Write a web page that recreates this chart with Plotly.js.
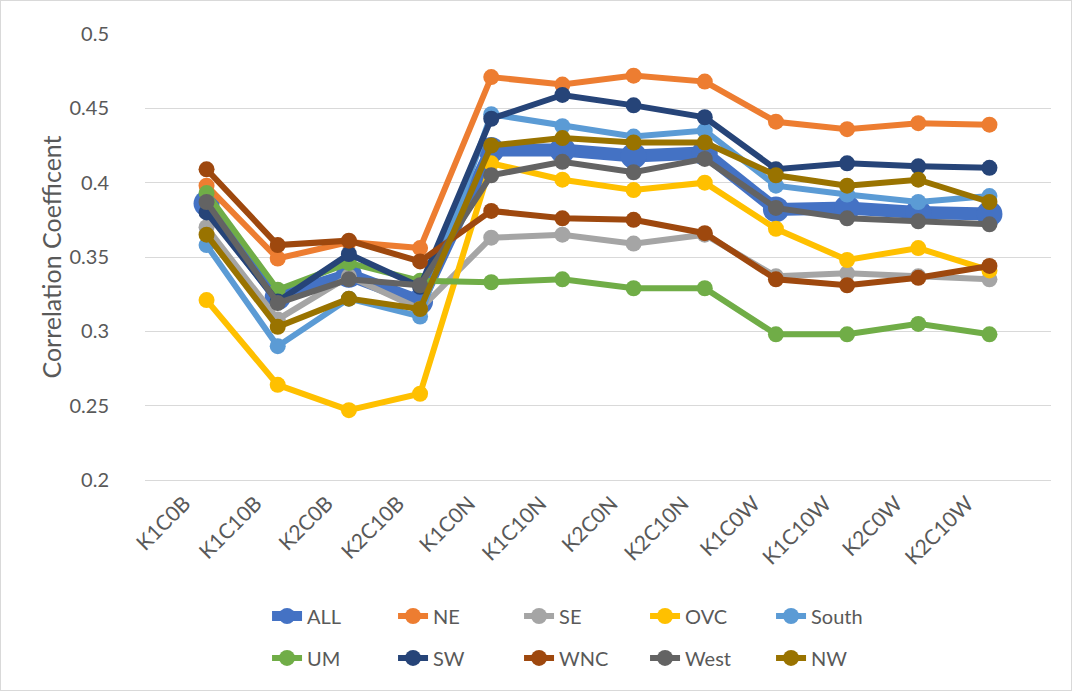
<!DOCTYPE html>
<html>
<head>
<meta charset="utf-8">
<script src="https://cdn.plot.ly/plotly-3.0.1.min.js"></script>
<style>
  html, body { margin: 0; padding: 0; background: #ffffff; }
  #wrap { position: relative; width: 1072px; height: 691px; }
  #chart { position: absolute; left: 0; top: 0; width: 1072px; height: 691px; }
  #frame { position: absolute; left: 0; top: 0; width: 1070px; height: 689px; border: 1px solid #d9d9d9; pointer-events: none; }
</style>
</head>
<body>
<div id="wrap"><div id="chart"></div><div id="frame"></div></div>
<script>
const categories = ['K1C0B','K1C10B','K2C0B','K2C10B','K1C0N','K1C10N','K2C0N','K2C10N','K1C0W','K1C10W','K2C0W','K2C10W'];

const ALL   = [0.386,0.323,0.338,0.320,0.422,0.422,0.418,0.420,0.382,0.383,0.380,0.379];
const NE    = [0.398,0.349,0.360,0.356,0.471,0.466,0.472,0.468,0.441,0.436,0.440,0.439];
const SE    = [0.370,0.308,0.337,0.315,0.363,0.365,0.359,0.365,0.337,0.339,0.337,0.335];
const OVC   = [0.321,0.264,0.247,0.258,0.413,0.402,0.395,0.400,0.369,0.348,0.356,0.341];
const South = [0.358,0.290,0.322,0.310,0.446,0.438,0.431,0.435,0.398,0.392,0.387,0.391];
const UM    = [0.393,0.328,0.346,0.334,0.333,0.335,0.329,0.329,0.298,0.298,0.305,0.298];
const SW    = [0.380,0.320,0.352,0.330,0.443,0.459,0.452,0.444,0.409,0.413,0.411,0.410];
const WNC   = [0.409,0.358,0.361,0.347,0.381,0.376,0.375,0.366,0.335,0.331,0.336,0.344];
const West  = [0.387,0.319,0.335,0.331,0.405,0.414,0.407,0.416,0.383,0.376,0.374,0.372];
const NW    = [0.365,0.303,0.322,0.315,0.425,0.430,0.427,0.427,0.405,0.398,0.402,0.387];

const seriesNames = ['ALL','NE','SE','OVC','South','UM','SW','WNC','West','NW'];
const seriesValues = [ALL, NE, SE, OVC, South, UM, SW, WNC, West, NW];
const seriesColors = ['#4472C4','#ED7D31','#A5A5A5','#FFC000','#5B9BD5','#70AD47','#264478','#9E480E','#636363','#997300'];

const FONT = 'Lato, "Open Sans", sans-serif';
const TXT = '#595959';

const traces = seriesNames.map((name, i) => {
  const isAll = name === 'ALL';
  return {
    type: 'scatter',
    mode: 'lines+markers',
    name: name,
    x: categories,
    y: seriesValues[i],
    legend: i < 5 ? 'legend' : 'legend2',
    line: { color: seriesColors[i], width: isAll ? 13 : 6 },
    marker: { color: seriesColors[i], size: isAll ? 26 : 16, symbol: 'circle' },
    cliponaxis: false,
    hoverinfo: 'x+y+name'
  };
});

const legendBase = {
  orientation: 'h',
  xanchor: 'left',
  yanchor: 'middle',
  x: 0.1347,
  entrywidth: 81,
  entrywidthmode: 'pixels',
  itemsizing: 'trace',
  traceorder: 'normal',
  bgcolor: 'rgba(0,0,0,0)',
  font: { family: FONT, size: 20, color: TXT }
};

const layout = {
  width: 1072,
  height: 691,
  margin: { l: 145, r: 21, t: 34, b: 211 },
  paper_bgcolor: '#ffffff',
  plot_bgcolor: '#ffffff',
  font: { family: FONT, color: TXT },
  showlegend: true,
  legend: Object.assign({}, legendBase, { y: -0.305 }),
  legend2: Object.assign({}, legendBase, { y: -0.399 }),
  xaxis: {
    type: 'category',
    showgrid: false,
    zeroline: false,
    showline: true,
    linecolor: '#d9d9d9',
    linewidth: 1,
    ticks: '',
    tickangle: -45,
    ticklabelshift: -22,
    ticklabelstandoff: 2,
    tickfont: { family: FONT, size: 21, color: TXT },
    fixedrange: true
  },
  yaxis: {
    range: [0.2, 0.5],
    dtick: 0.05,
    tick0: 0.2,
    showgrid: true,
    gridcolor: '#d9d9d9',
    gridwidth: 1,
    zeroline: false,
    showline: false,
    ticks: '',
    ticklabelstandoff: 35,
    tickfont: { family: FONT, size: 20, color: TXT },
    title: { text: 'Correlation Coefficent', font: { family: FONT, size: 25, color: TXT }, standoff: 0 },
    fixedrange: true
  }
};

Plotly.newPlot('chart', traces, layout, { displayModeBar: false, staticPlot: false });
</script>
</body>
</html>
